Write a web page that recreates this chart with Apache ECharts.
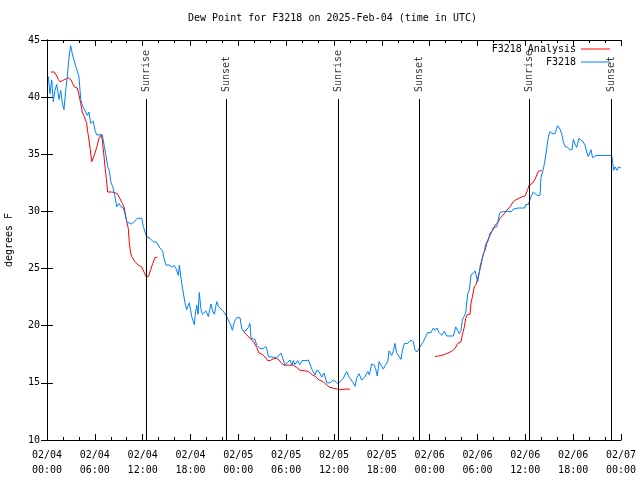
<!DOCTYPE html>
<html><head><meta charset="utf-8">
<script src="https://cdn.jsdelivr.net/npm/echarts@6/dist/echarts.min.js"></script>
<style>html,body{margin:0;padding:0;background:#fff}#c{width:640px;height:480px}</style>
</head><body><div id="c"></div><script>
// hours since 2025-02-04 00:00 UTC, dew point (F)
const obsData = [[0.16,41.8],[0.38,40.3],[0.59,41.5],[0.79,39.6],[1.0,40.6],[1.22,41.1],[1.51,39.8],[1.72,40.6],[1.92,39.5],[2.13,38.9],[2.35,40.6],[2.55,41.8],[2.76,43.5],[2.97,44.5],[3.17,43.8],[3.39,43.7],[3.6,42.7],[3.8,42.8],[4.01,41.8],[4.23,39.8],[4.43,39.3],[4.64,39.0],[4.85,38.7],[5.06,38.4],[5.27,38.7],[5.48,37.7],[5.81,37.9],[6.02,37.1],[6.23,36.7],[6.65,36.7],[6.94,36.7],[7.19,35.7],[7.4,34.9],[7.61,33.9],[7.81,33.6],[8.03,32.5],[8.24,32.2],[8.53,31.3],[8.74,30.4],[9.03,30.7],[9.28,30.4],[9.57,30.3],[9.78,29.8],[10.0,29.1],[10.29,29.0],[10.62,28.9],[10.95,29.1],[11.33,29.4],[11.88,29.4],[12.08,28.7],[12.29,28.2],[12.51,27.8],[12.92,27.65],[13.33,27.35],[13.76,27.3],[14.17,26.8],[14.51,26.5],[14.68,25.9],[14.93,25.3],[15.43,25.3],[15.68,25.1],[15.93,25.3],[16.18,25.0],[16.47,24.4],[16.6,25.3],[16.9,23.7],[17.1,23.6],[17.31,22.0],[17.52,21.4],[17.85,22.0],[18.0,21.4],[18.15,20.8],[18.35,20.35],[18.48,20.1],[18.6,21.0],[18.78,21.8],[18.95,21.0],[19.1,22.9],[19.3,21.5],[19.5,21.0],[19.73,20.9],[19.94,21.3],[20.23,20.8],[20.57,21.9],[20.82,21.2],[21.0,21.0],[21.29,22.1],[21.58,21.6],[21.83,21.5],[22.1,21.3],[22.54,20.8],[22.74,20.5],[23.08,20.0],[23.24,19.6],[23.5,20.35],[23.8,20.7],[24.21,20.7],[24.42,19.8],[24.62,19.5],[25.0,19.6],[25.25,19.85],[25.46,20.2],[25.59,18.9],[26.09,18.8],[26.3,18.3],[26.72,18.0],[27.1,18.0],[27.43,18.2],[27.6,17.9],[27.76,17.3],[28.22,17.25],[28.81,17.2],[29.35,17.6],[29.6,17.6],[29.85,16.55],[30.1,16.55],[30.48,17.0],[30.73,16.55],[30.9,16.95],[31.1,16.6],[31.45,16.95],[31.7,16.6],[31.99,16.95],[32.2,16.85],[32.5,16.95],[32.78,17.0],[32.99,17.1],[33.28,16.1],[33.62,15.7],[33.83,16.1],[34.12,16.0],[34.46,15.5],[34.75,15.85],[35.09,15.0],[35.5,15.0],[35.91,15.25],[36.13,15.2],[36.47,14.95],[36.75,15.1],[37.17,15.4],[37.59,16.0],[37.88,15.5],[38.13,15.55],[38.42,15.0],[38.64,14.7],[38.85,15.4],[39.14,15.8],[39.48,15.25],[39.85,15.5],[40.23,16.0],[40.43,15.7],[40.73,16.65],[41.06,16.55],[41.27,16.1],[41.43,15.6],[41.65,16.85],[41.9,16.55],[42.19,16.2],[42.4,16.5],[42.74,16.85],[42.9,17.8],[43.24,17.4],[43.44,17.8],[43.65,18.45],[43.85,17.65],[44.1,17.75],[44.41,17.05],[44.57,17.8],[44.82,18.45],[45.24,18.45],[45.66,18.75],[45.95,18.6],[46.16,17.9],[46.38,17.7],[46.66,18.0],[46.91,18.15],[47.2,18.6],[47.42,18.5],[47.75,19.4],[48.17,19.4],[48.46,19.8],[48.67,19.6],[48.92,19.8],[49.17,19.4],[49.51,19.15],[49.84,19.5],[50.14,19.1],[50.55,19.1],[50.97,19.1],[51.27,19.9],[51.52,19.9],[51.72,19.3],[51.93,19.6],[52.1,20.5],[52.31,20.8],[52.52,21.1],[52.77,22.8],[52.97,23.1],[53.19,24.45],[53.48,24.6],[53.69,24.8],[53.9,24.8],[54.03,23.85],[54.19,24.5],[54.35,25.3],[54.6,25.4],[54.85,26.5],[55.03,27.1],[55.28,27.5],[55.53,27.5],[55.78,28.2],[55.98,28.6],[56.41,28.65],[56.7,29.6],[56.82,29.9],[57.24,30.0],[57.74,30.0],[58.29,30.0],[58.49,30.2],[59.12,30.3],[59.62,30.3],[59.92,30.3],[60.05,30.6],[60.37,30.6],[60.59,30.5],[60.71,31.3],[61.0,31.7],[61.21,31.6],[61.5,31.4],[61.84,31.4],[61.97,33.0],[62.26,33.7],[62.47,34.5],[62.68,35.5],[62.88,36.5],[63.1,37.0],[63.35,36.8],[63.72,36.8],[63.94,37.3],[64.06,37.5],[64.35,37.2],[64.56,36.8],[64.76,36.1],[64.98,35.7],[65.31,35.6],[65.6,35.4],[65.86,35.4],[66.02,36.3],[66.23,35.9],[66.44,35.6],[66.73,36.4],[66.98,36.3],[67.24,36.1],[67.49,35.8],[67.7,35.2],[67.9,34.8],[68.05,34.7],[68.24,35.4],[68.43,34.7],[68.61,34.8],[68.87,34.9],[69.87,34.9],[70.83,34.9],[70.96,34.2],[71.08,33.6],[71.25,33.9],[71.5,33.6],[71.69,33.9],[71.88,33.9],[72.0,33.8]];

const analysisPart1 = [[0.5,42.2],[0.92,42.2],[1.22,41.85],[1.42,41.55],[1.63,41.35],[1.92,41.45],[2.26,41.55],[2.67,41.7],[3.01,41.5],[3.42,40.9],[3.8,40.8],[4.01,40.2],[4.23,39.45],[4.43,38.7],[4.68,38.3],[4.98,37.7],[5.1,37.0],[5.27,36.25],[5.43,35.4],[5.61,34.35],[5.86,34.35],[6.02,35.1],[6.27,35.7],[6.52,36.4],[6.77,36.7],[6.94,36.25],[7.11,35.1],[7.28,33.9],[7.44,32.9],[7.61,31.7],[8.12,31.7],[8.53,31.65],[8.87,31.5],[9.16,31.1],[9.45,30.7],[9.7,30.3],[9.87,29.6],[10.0,29.1],[10.2,28.5],[10.32,27.3],[10.5,26.3],[10.75,25.9],[11.04,25.6],[11.45,25.3],[11.88,25.15],[12.17,24.7],[12.42,24.3],[12.71,24.3],[13.01,24.9],[13.26,25.45],[13.55,25.95],[13.84,26.0]];
const analysisPart2 = [[24.62,19.5],[25.05,19.2],[25.68,18.75],[26.0,18.5],[26.3,18.1],[26.59,17.6],[27.0,17.5],[27.35,17.25],[27.68,16.95],[27.97,16.95],[28.39,17.1],[28.81,17.15],[29.1,17.0],[29.44,16.7],[29.77,16.55],[30.48,16.55],[30.9,16.55],[31.32,16.35],[31.74,16.1],[32.36,16.05],[32.78,16.0],[33.28,15.7],[33.7,15.55],[34.03,15.3],[34.66,15.1],[35.09,14.8],[35.5,14.6],[36.13,14.5],[36.75,14.4],[37.38,14.45],[38.0,14.45]];
const analysisPart3 = [[48.67,17.3],[49.51,17.4],[49.92,17.5],[50.43,17.65],[50.84,17.8],[51.18,18.0],[51.52,18.45],[51.93,18.6],[52.1,19.2],[52.35,19.9],[52.52,20.65],[52.77,21.0],[53.06,21.0],[53.19,22.0],[53.35,22.5],[53.6,23.4],[53.81,23.6],[54.03,23.7],[54.19,24.6],[54.44,25.3],[54.73,26.3],[54.94,26.6],[55.16,27.2],[55.36,27.5],[55.57,28.1],[55.98,28.4],[56.2,28.8],[56.53,29.0],[56.82,29.4],[57.24,29.7],[57.54,30.0],[57.79,30.1],[58.08,30.4],[58.49,30.85],[58.79,31.0],[59.21,31.15],[59.62,31.3],[59.96,31.35],[60.3,31.9],[60.46,32.3],[60.87,32.45],[61.21,32.8],[61.62,33.5],[62.05,33.6]];

const sunHours = [12.42, 22.54, 36.54, 46.7, 60.5, 70.83];
const sunLabels = ['Sunrise', 'Sunset', 'Sunrise', 'Sunset', 'Sunrise', 'Sunset'];
const yTicks = [10, 15, 20, 25, 30, 35, 40, 45];

const FONT = 'DejaVu Sans Mono';
const RED = '#ff0000', BLUE = '#0080ff';
const pad = n => (n < 10 ? '0' : '') + n;
const xLabel = h => {
  const day = 4 + Math.floor(h / 24);
  const hr = Math.round(h % 24);
  return '02/' + pad(day) + '\n' + pad(hr) + ':00';
};

const chart = echarts.init(document.getElementById('c'), null, {renderer: 'canvas'});
const axisCommon = {
  axisLine: {show: true, lineStyle: {color: '#000', width: 1}},
  axisTick: {show: true, inside: true, length: 6, lineStyle: {color: '#000'}},
  splitLine: {show: false}
};
const lineSeries = (name, data, color) => ({
  name, type: 'line', data, showSymbol: false, symbol: 'none',
  lineStyle: {color, width: 1}, itemStyle: {color},
  xAxisIndex: 0, yAxisIndex: 0, animation: false, silent: true
});

chart.setOption({
  animation: false,
  backgroundColor: '#fff',
  title: {
    text: 'Dew Point for F3218 on 2025-Feb-04 (time in UTC)',
    left: 188, top: 13, padding: 0,
    textStyle: {fontFamily: FONT, fontSize: 10, fontWeight: 'normal', color: '#000'}
  },
  legend: {
    data: ['F3218 Analysis', 'F3218'],
    orient: 'vertical', align: 'right', right: 30, top: 44, padding: 0, itemGap: 3,
    icon: 'rect', itemWidth: 29, itemHeight: 1,
    textStyle: {fontFamily: FONT, fontSize: 10, color: '#000'},
    selectedMode: false
  },
  grid: {left: 47, right: 19, top: 40, bottom: 40, containLabel: false, outerBoundsMode: 'none'},
  xAxis: [
    Object.assign({}, axisCommon, {
      type: 'value', min: 0, max: 72, interval: 6, position: 'bottom',
      minorTick: {show: true, splitNumber: 3, length: 3, lineStyle: {color: '#000'}},
      axisLabel: {fontFamily: FONT, fontSize: 10, color: '#000', margin: 8, lineHeight: 15,
        formatter: xLabel, showMinLabel: true, showMaxLabel: true}
    }),
    Object.assign({}, axisCommon, {
      type: 'value', min: 0, max: 72, interval: 6, position: 'top',
      minorTick: {show: true, splitNumber: 3, length: 3, lineStyle: {color: '#000'}},
      axisLabel: {show: false}
    })
  ],
  yAxis: [
    Object.assign({}, axisCommon, {
      type: 'value', min: yTicks[0], max: yTicks[yTicks.length - 1], interval: 5, position: 'left',
      name: 'degrees F', nameLocation: 'middle', nameGap: 33, nameRotate: 90,
      nameTextStyle: {fontFamily: FONT, fontSize: 10, color: '#000'},
      axisLabel: {fontFamily: FONT, fontSize: 10, color: '#000', margin: 7}
    }),
    Object.assign({}, axisCommon, {
      type: 'value', min: yTicks[0], max: yTicks[yTicks.length - 1], interval: 5, position: 'right',
      axisLabel: {show: false}
    })
  ],
  series: [
    lineSeries('F3218 Analysis', analysisPart1, RED),
    lineSeries('F3218 Analysis', analysisPart2, RED),
    lineSeries('F3218 Analysis', analysisPart3, RED),
    lineSeries('F3218', obsData, BLUE),
    {
      name: 'sun', type: 'scatter', symbolSize: 0, silent: true, animation: false,
      data: sunHours.map((h, i) => ({value: [h, 40.45], name: sunLabels[i]})),
      label: {
        show: true, position: 'inside', rotate: 90, align: 'left', verticalAlign: 'middle',
        formatter: p => p.name, fontFamily: FONT, fontSize: 10, color: '#000'
      },
      markLine: {
        silent: true, symbol: ['none', 'none'], animation: false,
        label: {show: false},
        lineStyle: {color: '#000', width: 1, type: 'solid'},
        data: sunHours.map(h => [{coord: [h, 10]}, {coord: [h, 39.84]}])
      }
    }
  ]
});
</script></body></html>
